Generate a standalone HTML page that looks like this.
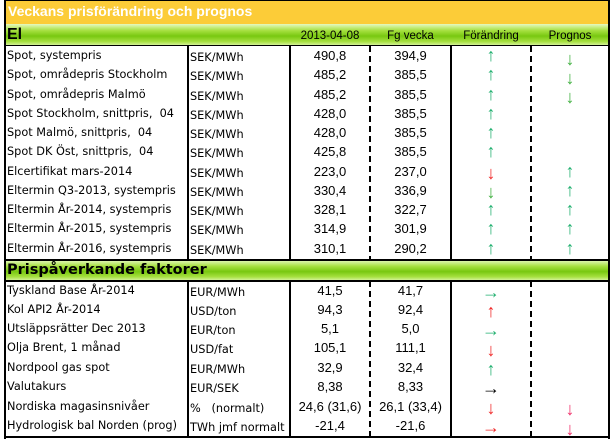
<!DOCTYPE html>
<html><head><meta charset="utf-8"><style>
body{margin:0;width:614px;height:439px;background:#fff;position:relative;overflow:hidden;font-family:"DejaVu Sans","Liberation Sans",sans-serif;}
div{position:absolute;box-sizing:border-box}
.t{position:absolute;white-space:nowrap;font-size:11.3px;color:#000;line-height:19px}
.n{font-family:"Liberation Sans",sans-serif;font-size:13px;text-align:center}
.vl{width:2px;background:#000}
.dl{width:2px;background:repeating-linear-gradient(#000 0 6px,transparent 6px 10px)}
.hl{height:2px;background:#000;left:4px;width:606px}
.g{left:4px;width:606px;background:linear-gradient(#e6f9c0 0%,#a6e040 30%,#78c810 55%,#a6e040 80%,#dff7b0 100%)}
.a{font-family:"Liberation Sans",sans-serif;font-size:18px;font-weight:bold;text-align:center;width:40px;line-height:19px}
.up{color:#22b070}.r{color:#f02828}.k{color:#000}.p{color:#f0306a}.o{color:#40b040}
</style></head><body>
<div style="left:4px;top:0;width:606px;height:24px;background:#fccc38"></div>
<div class="t" style="left:8px;top:2px;font-family:'Liberation Sans',sans-serif;font-weight:bold;color:#fff;font-size:14px">Veckans prisförändring och prognos</div>
<div class="g" style="top:24px;height:22px"></div>
<div class="t" style="left:7px;top:25px;font-family:'Liberation Sans',sans-serif;font-weight:bold;font-size:16px">El</div>
<div class="t n" style="left:290px;width:80px;top:27px;font-size:11.5px">2013-04-08</div>
<div class="t n" style="left:370px;width:81px;top:27px;font-size:11.5px">Fg vecka</div>
<div class="t n" style="left:451px;width:80px;top:27px;font-size:11.5px">Förändring</div>
<div class="t n" style="left:531px;width:78px;top:27px;font-size:11.5px">Prognos</div>
<div class="g" style="top:260px;height:21px"></div>
<div class="t" style="left:7px;top:261px;font-weight:bold;font-size:14.5px">Prispåverkande faktorer</div>
<div class="vl" style="left:4px;top:0;height:439px"></div>
<div class="vl" style="left:608px;top:0;height:439px"></div>
<div class="hl" style="top:0;height:1px"></div>
<div class="hl" style="top:45px;height:1px"></div>
<div class="hl" style="top:259px"></div>
<div class="hl" style="top:280px"></div>
<div class="hl" style="top:436px"></div>
<div class="vl" style="left:187px;top:46px;height:213px"></div>
<div class="vl" style="left:289px;top:46px;height:213px"></div>
<div class="dl" style="left:369px;top:46px;height:213px"></div>
<div class="vl" style="left:450px;top:46px;height:213px"></div>
<div class="dl" style="left:530px;top:46px;height:213px"></div>
<div class="vl" style="left:187px;top:281px;height:156px"></div>
<div class="vl" style="left:289px;top:281px;height:156px"></div>
<div class="dl" style="left:369px;top:281px;height:156px"></div>
<div class="vl" style="left:450px;top:281px;height:156px"></div>
<div class="dl" style="left:530px;top:281px;height:156px"></div>

<div class="t" style="left:7px;top:46px">Spot, systempris</div><div class="t" style="left:190px;top:48px">SEK/MWh</div><div class="t n" style="left:290px;width:80px;top:46px">490,8</div><div class="t n" style="left:370px;width:81px;top:46px">394,9</div><div class="t a up" style="left:471px;top:46px">↑</div><div class="t a o" style="left:550px;top:50px">↓</div>
<div class="t" style="left:7px;top:65px">Spot, områdepris Stockholm</div><div class="t" style="left:190px;top:67px">SEK/MWh</div><div class="t n" style="left:290px;width:80px;top:65px">485,2</div><div class="t n" style="left:370px;width:81px;top:65px">385,5</div><div class="t a up" style="left:471px;top:65px">↑</div><div class="t a o" style="left:550px;top:69px">↓</div>
<div class="t" style="left:7px;top:85px">Spot, områdepris Malmö</div><div class="t" style="left:190px;top:87px">SEK/MWh</div><div class="t n" style="left:290px;width:80px;top:85px">485,2</div><div class="t n" style="left:370px;width:81px;top:85px">385,5</div><div class="t a up" style="left:471px;top:85px">↑</div><div class="t a o" style="left:550px;top:88px">↓</div>
<div class="t" style="left:7px;top:104px">Spot Stockholm, snittpris,&nbsp; 04</div><div class="t" style="left:190px;top:106px">SEK/MWh</div><div class="t n" style="left:290px;width:80px;top:104px">428,0</div><div class="t n" style="left:370px;width:81px;top:104px">385,5</div><div class="t a up" style="left:471px;top:104px">↑</div>
<div class="t" style="left:7px;top:123px">Spot Malmö, snittpris,&nbsp; 04</div><div class="t" style="left:190px;top:125px">SEK/MWh</div><div class="t n" style="left:290px;width:80px;top:123px">428,0</div><div class="t n" style="left:370px;width:81px;top:123px">385,5</div><div class="t a up" style="left:471px;top:123px">↑</div>
<div class="t" style="left:7px;top:142px">Spot DK Öst, snittpris,&nbsp; 04</div><div class="t" style="left:190px;top:144px">SEK/MWh</div><div class="t n" style="left:290px;width:80px;top:142px">425,8</div><div class="t n" style="left:370px;width:81px;top:142px">385,5</div><div class="t a up" style="left:471px;top:142px">↑</div>
<div class="t" style="left:7px;top:162px">Elcertifikat mars-2014</div><div class="t" style="left:190px;top:164px">SEK/MWh</div><div class="t n" style="left:290px;width:80px;top:162px">223,0</div><div class="t n" style="left:370px;width:81px;top:162px">237,0</div><div class="t a r" style="left:471px;top:164px">↓</div><div class="t a up" style="left:550px;top:162px">↑</div>
<div class="t" style="left:7px;top:181px">Eltermin Q3-2013, systempris</div><div class="t" style="left:190px;top:183px">SEK/MWh</div><div class="t n" style="left:290px;width:80px;top:181px">330,4</div><div class="t n" style="left:370px;width:81px;top:181px">336,9</div><div class="t a o" style="left:471px;top:183px">↓</div><div class="t a up" style="left:550px;top:181px">↑</div>
<div class="t" style="left:7px;top:200px">Eltermin År-2014, systempris</div><div class="t" style="left:190px;top:202px">SEK/MWh</div><div class="t n" style="left:290px;width:80px;top:200px">328,1</div><div class="t n" style="left:370px;width:81px;top:200px">322,7</div><div class="t a up" style="left:471px;top:200px">↑</div><div class="t a up" style="left:550px;top:200px">↑</div>
<div class="t" style="left:7px;top:219px">Eltermin År-2015, systempris</div><div class="t" style="left:190px;top:221px">SEK/MWh</div><div class="t n" style="left:290px;width:80px;top:219px">314,9</div><div class="t n" style="left:370px;width:81px;top:219px">301,9</div><div class="t a up" style="left:471px;top:219px">↑</div><div class="t a up" style="left:550px;top:219px">↑</div>
<div class="t" style="left:7px;top:239px">Eltermin År-2016, systempris</div><div class="t" style="left:190px;top:241px">SEK/MWh</div><div class="t n" style="left:290px;width:80px;top:239px">310,1</div><div class="t n" style="left:370px;width:81px;top:239px">290,2</div><div class="t a up" style="left:471px;top:239px">↑</div><div class="t a up" style="left:550px;top:239px">↑</div>

<div class="t" style="left:7px;top:281px">Tyskland Base År-2014</div><div class="t" style="left:190px;top:283px">EUR/MWh</div><div class="t n" style="left:290px;width:80px;top:281px">41,5</div><div class="t n" style="left:370px;width:81px;top:281px">41,7</div><div class="t a up" style="left:471px;top:283px">→</div>
<div class="t" style="left:7px;top:300px">Kol API2 År-2014</div><div class="t" style="left:190px;top:302px">USD/ton</div><div class="t n" style="left:290px;width:80px;top:300px">94,3</div><div class="t n" style="left:370px;width:81px;top:300px">92,4</div><div class="t a r" style="left:471px;top:302px">↑</div>
<div class="t" style="left:7px;top:319px">Utsläppsrätter Dec 2013</div><div class="t" style="left:190px;top:321px">EUR/ton</div><div class="t n" style="left:290px;width:80px;top:319px">5,1</div><div class="t n" style="left:370px;width:81px;top:319px">5,0</div><div class="t a up" style="left:471px;top:321px">→</div>
<div class="t" style="left:7px;top:338px">Olja Brent, 1 månad</div><div class="t" style="left:190px;top:340px">USD/fat</div><div class="t n" style="left:290px;width:80px;top:338px">105,1</div><div class="t n" style="left:370px;width:81px;top:338px">111,1</div><div class="t a r" style="left:471px;top:341px">↓</div>
<div class="t" style="left:7px;top:358px">Nordpool gas spot</div><div class="t" style="left:190px;top:360px">EUR/MWh</div><div class="t n" style="left:290px;width:80px;top:358px">32,9</div><div class="t n" style="left:370px;width:81px;top:358px">32,4</div><div class="t a up" style="left:471px;top:360px">↑</div>
<div class="t" style="left:7px;top:377px">Valutakurs</div><div class="t" style="left:190px;top:379px">EUR/SEK</div><div class="t n" style="left:290px;width:80px;top:377px">8,38</div><div class="t n" style="left:370px;width:81px;top:377px">8,33</div><div class="t a k" style="left:471px;top:379px">→</div>
<div class="t" style="left:7px;top:397px">Nordiska magasinsnivåer</div><div class="t" style="left:190px;top:399px">%&nbsp;&nbsp;&nbsp;(normalt)</div><div class="t n" style="left:290px;width:80px;top:397px">24,6 (31,6)</div><div class="t n" style="left:370px;width:81px;top:397px">26,1 (33,4)</div><div class="t a r" style="left:471px;top:399px">↓</div><div class="t a p" style="left:550px;top:400px">↓</div>
<div class="t" style="left:7px;top:416px">Hydrologisk bal Norden (prog)</div><div class="t" style="left:190px;top:418px">TWh jmf normalt</div><div class="t n" style="left:290px;width:80px;top:416px">-21,4</div><div class="t n" style="left:370px;width:81px;top:416px">-21,6</div><div class="t a r" style="left:471px;top:418px">→</div><div class="t a p" style="left:550px;top:420px">↓</div>
</body></html>
